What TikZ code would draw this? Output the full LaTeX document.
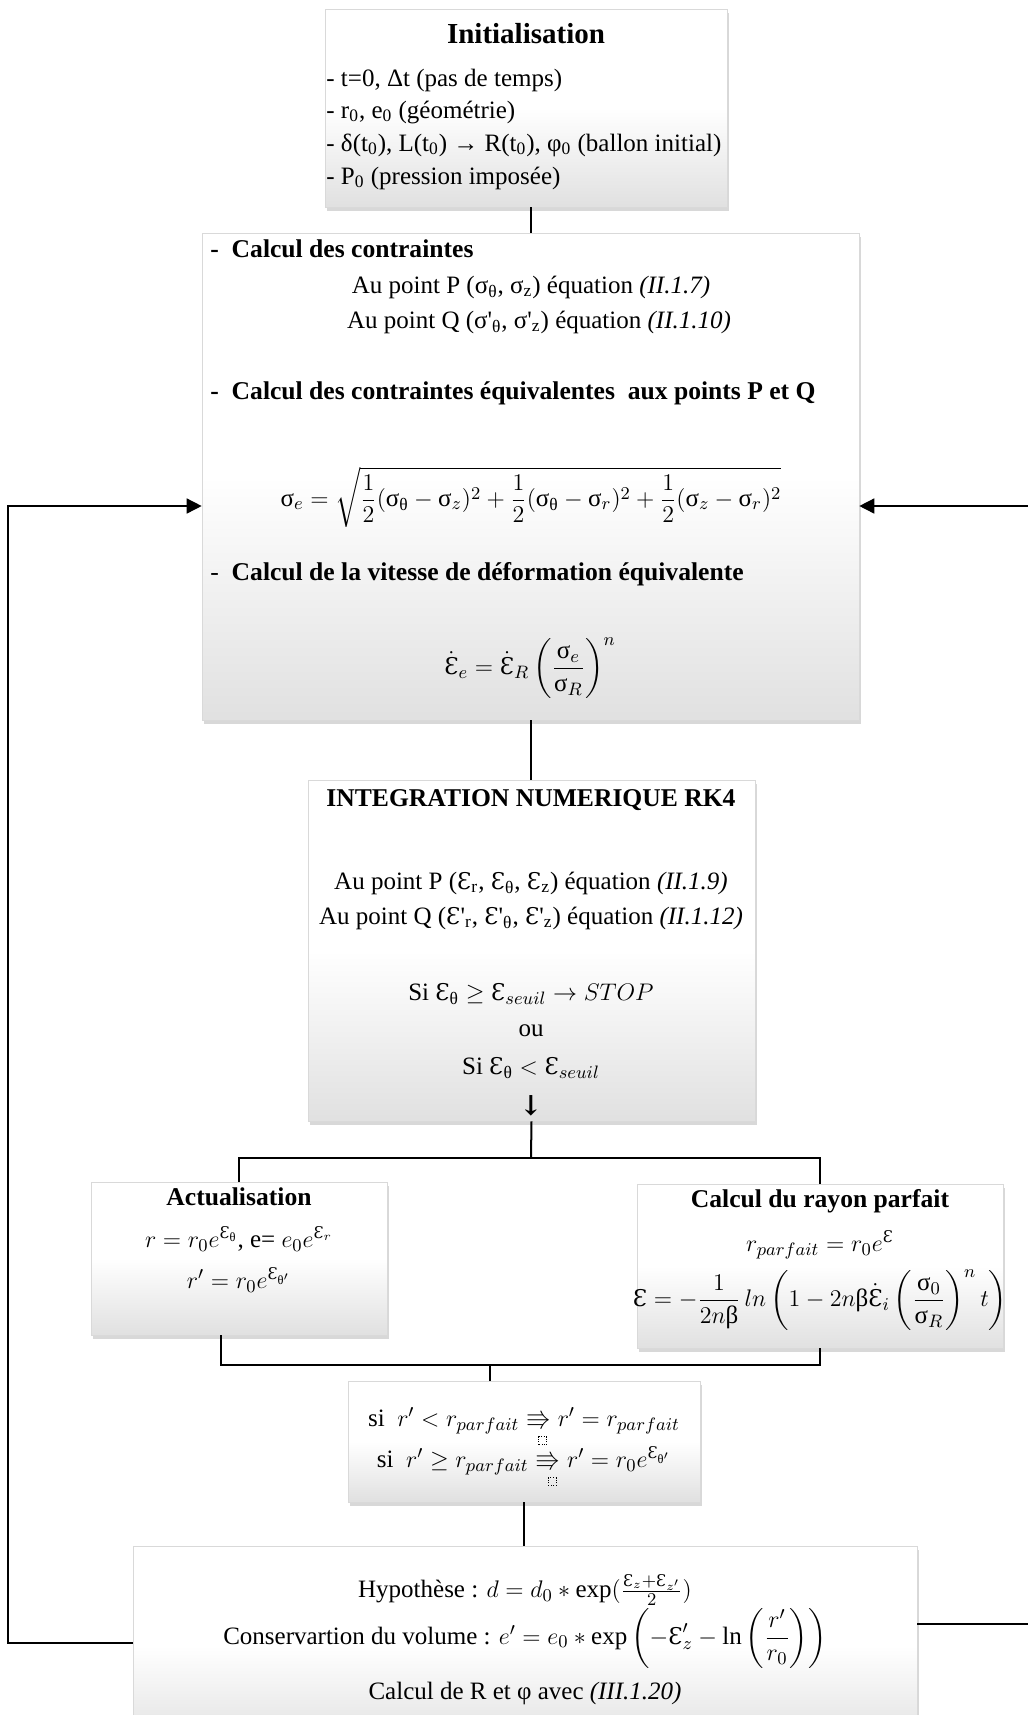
\documentclass[tikz,border=0pt]{standalone}
\usepackage{amsmath,amssymb}
\usepackage{fontspec}
\setmainfont{Liberation Serif}
\newfontfamily\epsfam[Scale=0.92]{DejaVu Serif}
\usetikzlibrary{shadows,arrows.meta,calc}
\newcommand\Eps{\text{\epsfam Ɛ}}
\newcommand\tEps{{\epsfam Ɛ}}
\newcommand\us{\text{σ}}
\newcommand\uth{\text{θ}}
\newcommand\ub{\text{β}}
\newcommand\apo{\textquotesingle}
\newcommand\bsz{\fontsize{12.5}{15}\selectfont}
\newcommand\hsz{\fontsize{12.8}{15}\selectfont}
\newcommand\tsz{\fontsize{14.5}{17}\selectfont}
\newcommand\dotbox{\tikz\draw[densely dotted,line width=0.3pt] (0pt,0pt) rectangle (4pt,4pt);}
\newcommand\impl{\mathrel{\smash[b]{\underset{\dotbox}{\Rrightarrow}}}}
\tikzset{
  box/.style={draw=gray!30, line width=0.3pt, top color=white, bottom color=gray!24, middle color=white,
    drop shadow={shadow xshift=1.2pt, shadow yshift=-1.8pt, opacity=0.3}, inner sep=0pt},
  conn/.style={line width=1pt, black},
  loopline/.style={line width=0.75pt, black, -{Triangle[length=7.5pt,width=7.5pt]}},
  txt/.style={inner sep=0pt, font=\bsz},
}
\begin{document}
\begin{tikzpicture}[x=0.5pt,y=-0.5pt]
\fill[white] (0,0) rectangle (1028,1715);
\useasboundingbox (0,0) rectangle (1028,1715);

% boxes
\node[box,minimum width=201pt,minimum height=99pt] (init) at (526,108) {};
\node[box,minimum width=328.5pt,minimum height=243.5pt] (big) at (530.5,476.5) {};
\node[box,minimum width=223.5pt,minimum height=170.5pt] (rk4) at (531.5,950.5) {};
\node[box,minimum width=148pt,minimum height=76.5pt] (act) at (239,1258.5) {};
\node[box,minimum width=183pt,minimum height=82pt] (ray) at (820,1266) {};
\node[box,minimum width=176pt,minimum height=60.5pt] (si) at (524,1441.5) {};
\node[box,minimum width=392pt,minimum height=100pt] (bot) at (525,1646) {};

% connectors
\draw[conn] (big.north |- init.south) -- (big.north);
\draw[conn] (big.south) -- (big.south |- rk4.north);
\coordinate (fork) at (531,1158);
\draw[conn] (rk4.south) -- (fork);
\draw[conn] (act.north) |- (fork) -| (ray.north);
\coordinate (join) at (490,1365);
\draw[conn] ([xshift=-9pt]act.south) |- (join) -| (ray.south);
\draw[conn] (join) -- (join |- si.north);
\draw[conn] (si.south) -- (si.south |- bot.north);
\coordinate (ay) at (0,506);
\coordinate (lc) at (8,1643);
\coordinate (rc) at (1045,1624);
\draw[loopline] (bot.west |- lc) -- (lc) |- (big.west |- ay);
\draw[loopline] (bot.east |- rc) -- (rc) |- (big.east |- ay);

% init text
\node[txt,font=\tsz\bfseries] (ti) at (526,34) {Initialisation};
\node[txt,anchor=west] (i1) at (326,80) {- t=0, Δt (pas de temps)};
\node[txt,anchor=west] (i2) at (326,112) {- r\textsubscript{0}, e\textsubscript{0} (géométrie)};
\node[txt,anchor=west] (i3) at (326,145) {- δ(t\textsubscript{0}), L(t\textsubscript{0}) → R(t\textsubscript{0}), φ\textsubscript{0} (ballon initial)};
\node[txt,anchor=west] (i4) at (326,178) {- P\textsubscript{0} (pression imposée)};

% big box text
\node[txt,anchor=west,font=\hsz\bfseries] (h1) at (210,249) {-\ \ Calcul des contraintes};
\node[txt] (p1) at (531,287) {Au point P (σ\textsubscript{θ}, σ\textsubscript{z}) équation \textit{(II.1.7)}};
\node[txt] (q1) at (539,322) {Au point Q (σ\apo\textsubscript{θ}, σ\apo\textsubscript{z}) équation \textit{(II.1.10)}};
\node[txt,anchor=west,font=\hsz\bfseries] (h2) at (210,393) {-\ \ Calcul des contraintes équivalentes\ \ aux points P et Q};
\node[txt] (f1) at (531,497) {$\us_e = \sqrt{\dfrac{1}{2}(\us_{\uth} - \us_z)^2 + \dfrac{1}{2}(\us_{\uth} - \us_r)^2 + \dfrac{1}{2}(\us_z - \us_r)^2}$};
\node[txt,anchor=west,font=\hsz] (h3) at (210,574) {-\ \ \textbf{Calcul de la vitesse de déformation équivalente}};
\node[txt] (f2) at (530,668) {$\dot{\Eps}_e = \dot{\Eps}_R\left(\dfrac{\us_e}{\us_R}\right)^{n}$};

% rk4 text
\node[txt,font=\hsz\bfseries] (tr) at (531,800) {INTEGRATION NUMERIQUE RK4};
\node[txt] (r1) at (531,883) {Au point P (\tEps\textsubscript{r}, \tEps\textsubscript{θ}, \tEps\textsubscript{z}) équation \textit{(II.1.9)}};
\node[txt] (r2) at (531,918) {Au point Q (\tEps\apo\textsubscript{r}, \tEps\apo\textsubscript{θ}, \tEps\apo\textsubscript{z}) équation \textit{(II.1.12)}};
\node[txt] (r3) at (531,994) {Si $\Eps_{\uth} \geq \Eps_{seuil} \rightarrow STOP$};
\node[txt] (r4) at (531,1031) {ou};
\node[txt] (r5) at (531,1068) {Si $\Eps_{\uth} < \Eps_{seuil}$};
\node[txt,font=\fontsize{15}{17}\selectfont\epsfam\bfseries] (r6) at (531,1106) {↓};

% actualisation
\node[txt,font=\hsz\bfseries] (ta) at (239,1197) {Actualisation};
\node[txt] (a1) at (239,1239) {$r = r_0e^{\Eps_{\uth}}$, e= $e_0e^{\Eps_r}$};
\node[txt] (a2) at (239,1280) {$r' = r_0e^{\Eps_{\uth'}}$};

% rayon parfait
\node[txt,font=\hsz\bfseries] (tp) at (820,1201) {Calcul du rayon parfait};
\node[txt] (p2) at (820,1245) {$r_{parfait} = r_0e^{\Eps}$};
\node[txt] (p3) at (820,1300) {$\Eps = -\dfrac{1}{2n\ub}\,ln\left(1-2n\ub\dot{\Eps}_i\left(\dfrac{\us_0}{\us_R}\right)^{n} t\right)$};

% si box
\node[txt] (s1) at (524,1421) {si\ \ $r' < r_{parfait} \impl r' = r_{parfait}$};
\node[txt] (s2) at (524,1461) {si\ \ $r' \geq r_{parfait} \impl r' = r_0e^{\Eps_{\uth'}}$};

% bottom box
\node[txt] (b1) at (525,1590) {Hypothèse : $d = d_0 \ast \exp(\frac{\Eps_z+\Eps_{z'}}{2})$};
\node[txt] (b2) at (525,1638) {Conservartion du volume : $e' = e_0 \ast \exp\left(-\Eps'_z - \ln\left(\dfrac{r'}{r_0}\right)\right)$};
\node[txt] (b3) at (525,1693) {Calcul de R et φ avec \textit{(III.1.20)}};
\end{tikzpicture}
\end{document}
